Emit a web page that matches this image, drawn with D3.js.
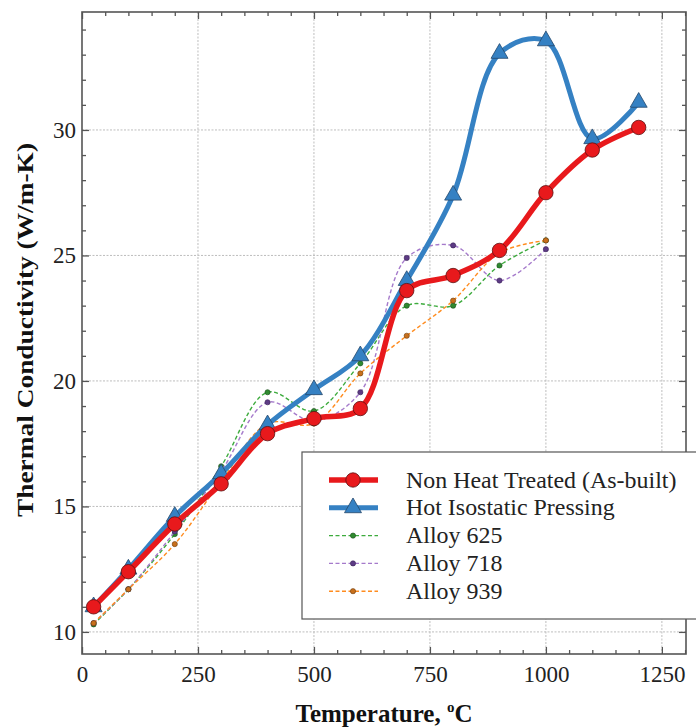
<!DOCTYPE html>
<html>
<head>
<meta charset="utf-8">
<script src="https://cdn.jsdelivr.net/npm/d3@7"></script>
<style>
  body { margin: 0; background: #fff; }
  svg { display: block; font-family: "Liberation Serif", "DejaVu Serif", serif; }
</style>
</head>
<body>
<svg id="chart" width="696" height="728"></svg>
<script>
// temperatures (°C) and conductivities (W/m-K)
var temps = [25, 100, 200, 300, 400, 500, 600, 700, 800, 900, 1000, 1100, 1200];
var asBuilt = [11.0, 12.4, 14.3, 15.9, 17.9, 18.5, 18.9, 23.6, 24.2, 25.2, 27.5, 29.2, 30.1];
var hip = [11.0, 12.5, 14.6, 16.3, 18.25, 19.65, 21.0, 24.0, 27.4, 33.05, 33.55, 29.65, 31.1];

var alloyTemps = [25, 100, 200, 300, 400, 500, 600, 700, 800, 900, 1000];
var alloy625 = [10.3, 11.7, 13.9, 16.6, 19.55, 18.8, 20.7, 23.0, 23.0, 24.6, 25.6];
var alloy718 = [10.35, 11.7, 14.0, 16.4, 19.15, 18.4, 19.55, 24.9, 25.4, 24.0, 25.25];
var alloy939 = [10.35, 11.7, 13.5, 16.0, 18.3, 18.3, 20.3, 21.8, 23.2, 25.1, 25.6];

var xMajor = [0, 250, 500, 750, 1000, 1250];
var yMajor = [10, 15, 20, 25, 30];
var legendLabels = ["Non Heat Treated (As-built)", "Hot Isostatic Pressing", "Alloy 625", "Alloy 718", "Alloy 939"];

var svg = d3.select("#chart");
// plot frame edges (window.top is reserved, so use own names)
var pLeft = 82, pRight = 686, pTop = 12, pBottom = 654;

var x = d3.scaleLinear().domain([0, 1302]).range([pLeft, pRight]);
var y = d3.scaleLinear().domain([9.12, 34.7]).range([pBottom, pTop]);

var xMinor = d3.range(0, 1301, 50).filter(function(d) { return d % 250 !== 0; });
var yMinor = d3.range(10, 35, 1).filter(function(d) { return d % 5 !== 0; });

// grid
svg.append("g").selectAll("line").data(xMajor.filter(function(d) { return d > 0; })).join("line")
  .attr("x1", function(d) { return x(d); }).attr("x2", function(d) { return x(d); })
  .attr("y1", pTop).attr("y2", pBottom)
  .attr("stroke", "#bdbdbd").attr("stroke-width", 1).attr("stroke-dasharray", "2,1.5");
svg.append("g").selectAll("line").data(yMajor).join("line")
  .attr("y1", function(d) { return y(d); }).attr("y2", function(d) { return y(d); })
  .attr("x1", pLeft).attr("x2", pRight)
  .attr("stroke", "#bdbdbd").attr("stroke-width", 1).attr("stroke-dasharray", "2,1.5");

// axes, ticks pointing inward on all four sides
function styleAxis(g) {
  g.select(".domain").remove();
  g.selectAll(".tick line").attr("stroke", "#555").attr("stroke-width", 1.3);
  g.selectAll("text").attr("fill", "#222").attr("font-size", 23)
    .attr("font-family", "'Liberation Serif', serif");
}
svg.append("g").attr("transform", "translate(0," + pBottom + ")")
  .call(d3.axisBottom(x).tickValues(xMajor).tickSize(-7).tickPadding(12).tickFormat(d3.format("d")))
  .call(styleAxis);
svg.append("g").attr("transform", "translate(0," + pBottom + ")")
  .call(d3.axisBottom(x).tickValues(xMinor).tickSize(-4).tickFormat("")).call(styleAxis);
svg.append("g").attr("transform", "translate(0," + pTop + ")")
  .call(d3.axisTop(x).tickValues(xMajor).tickSize(-7).tickFormat("")).call(styleAxis);
svg.append("g").attr("transform", "translate(0," + pTop + ")")
  .call(d3.axisTop(x).tickValues(xMinor).tickSize(-4).tickFormat("")).call(styleAxis);
svg.append("g").attr("transform", "translate(" + pLeft + ",0)")
  .call(d3.axisLeft(y).tickValues(yMajor).tickSize(-7).tickPadding(6).tickFormat(d3.format("d")))
  .call(styleAxis);
svg.append("g").attr("transform", "translate(" + pLeft + ",0)")
  .call(d3.axisLeft(y).tickValues(yMinor).tickSize(-4).tickFormat("")).call(styleAxis);
svg.append("g").attr("transform", "translate(" + pRight + ",0)")
  .call(d3.axisRight(y).tickValues(yMajor).tickSize(-7).tickFormat("")).call(styleAxis);
svg.append("g").attr("transform", "translate(" + pRight + ",0)")
  .call(d3.axisRight(y).tickValues(yMinor).tickSize(-4).tickFormat("")).call(styleAxis);

// series, smoothed through the points
var line = d3.line().curve(d3.curveCatmullRom.alpha(0.5))
  .x(function(d) { return x(d[0]); }).y(function(d) { return y(d[1]); });

var alloys = [
  { vals: alloy625, color: "#3dab3d", fill: "#2f8a2f", edge: "#1b4d1b" },
  { vals: alloy718, color: "#a57acb", fill: "#5d3b85", edge: "#3a2457" },
  { vals: alloy939, color: "#ff8c1f", fill: "#c8701c", edge: "#6b3a0d" }
];
alloys.forEach(function(a) {
  var pts = alloyTemps.map(function(t, i) { return [t, a.vals[i]]; });
  svg.append("path").datum(pts).attr("d", line)
    .attr("fill", "none").attr("stroke", a.color).attr("stroke-width", 1.4)
    .attr("stroke-dasharray", "4,2.5");
  svg.append("g").selectAll("circle").data(pts).join("circle")
    .attr("cx", function(d) { return x(d[0]); }).attr("cy", function(d) { return y(d[1]); })
    .attr("r", 2.6).attr("fill", a.fill).attr("stroke", a.edge).attr("stroke-width", 0.6);
});

var hipPts = temps.map(function(t, i) { return [t, hip[i]]; });
svg.append("path").datum(hipPts).attr("d", line)
  .attr("fill", "none").attr("stroke", "#3581c3").attr("stroke-width", 5);
svg.append("g").selectAll("path").data(hipPts).join("path")
  .attr("d", d3.symbol(d3.symbolTriangle, 125))
  .attr("transform", function(d) { return "translate(" + x(d[0]) + "," + y(d[1]) + ")"; })
  .attr("fill", "#3581c3").attr("stroke", "#24486b").attr("stroke-width", 0.8);

var abPts = temps.map(function(t, i) { return [t, asBuilt[i]]; });
svg.append("path").datum(abPts).attr("d", line)
  .attr("fill", "none").attr("stroke", "#e8191c").attr("stroke-width", 5.5);
svg.append("g").selectAll("circle").data(abPts).join("circle")
  .attr("cx", function(d) { return x(d[0]); }).attr("cy", function(d) { return y(d[1]); })
  .attr("r", 7.2).attr("fill", "#e8191c").attr("stroke", "#5a1010").attr("stroke-width", 0.8);

// frame
svg.append("rect").attr("x", pLeft).attr("y", pTop)
  .attr("width", pRight - pLeft).attr("height", pBottom - pTop)
  .attr("fill", "none").attr("stroke", "#555").attr("stroke-width", 1.6);

// axis titles
var xt = svg.append("text").attr("x", 384).attr("y", 722).attr("text-anchor", "middle")
  .attr("font-size", 25).attr("font-weight", "bold").attr("fill", "#111");
xt.append("tspan").text("Temperature, ");
xt.append("tspan").attr("font-size", 15).attr("dy", -10).text("o");
xt.append("tspan").attr("dy", 10).text("C");
svg.append("text").attr("transform", "translate(33,330) rotate(-90)")
  .attr("text-anchor", "middle").attr("font-size", 23).attr("font-weight", "bold")
  .attr("fill", "#111").attr("textLength", 374).attr("lengthAdjust", "spacingAndGlyphs")
  .text("Thermal Conductivity (W/m-K)");

// legend
var lg = svg.append("g");
lg.append("rect").attr("x", 302).attr("y", 452).attr("width", 400).attr("height", 167)
  .attr("fill", "#fff").attr("stroke", "#555").attr("stroke-width", 1.2);
var rows = [
  { color: "#e8191c", w: 5.5, dash: null, mark: "circle", fill: "#e8191c", edge: "#5a1010" },
  { color: "#3581c3", w: 5, dash: null, mark: "triangle", fill: "#3581c3", edge: "#24486b" },
  { color: "#3dab3d", w: 1.4, dash: "4,2.5", mark: "dot", fill: "#2f8a2f", edge: "#1b4d1b" },
  { color: "#a57acb", w: 1.4, dash: "4,2.5", mark: "dot", fill: "#5d3b85", edge: "#3a2457" },
  { color: "#ff8c1f", w: 1.4, dash: "4,2.5", mark: "dot", fill: "#c8701c", edge: "#6b3a0d" }
];
rows.forEach(function(r, i) {
  var cy = 480 + i * 27.8;
  lg.append("line").attr("x1", 329).attr("x2", 378).attr("y1", cy).attr("y2", cy)
    .attr("stroke", r.color).attr("stroke-width", r.w).attr("stroke-dasharray", r.dash);
  if (r.mark === "circle") {
    lg.append("circle").attr("cx", 353).attr("cy", cy).attr("r", 7.2)
      .attr("fill", r.fill).attr("stroke", r.edge).attr("stroke-width", 0.8);
  } else if (r.mark === "triangle") {
    lg.append("path").attr("d", d3.symbol(d3.symbolTriangle, 125))
      .attr("transform", "translate(353," + cy + ")")
      .attr("fill", r.fill).attr("stroke", r.edge).attr("stroke-width", 0.8);
  } else {
    lg.append("circle").attr("cx", 353).attr("cy", cy).attr("r", 2.6)
      .attr("fill", r.fill).attr("stroke", r.edge).attr("stroke-width", 0.6);
  }
  var t = lg.append("text").attr("x", 406).attr("y", cy + 7.5).attr("font-size", 23)
    .attr("fill", "#222").text(legendLabels[i]);
  // the source font runs a little wider than Liberation Serif
  var len = t.node().getComputedTextLength();
  t.attr("textLength", len * 1.04).attr("lengthAdjust", "spacingAndGlyphs");
});
</script>
</body>
</html>
